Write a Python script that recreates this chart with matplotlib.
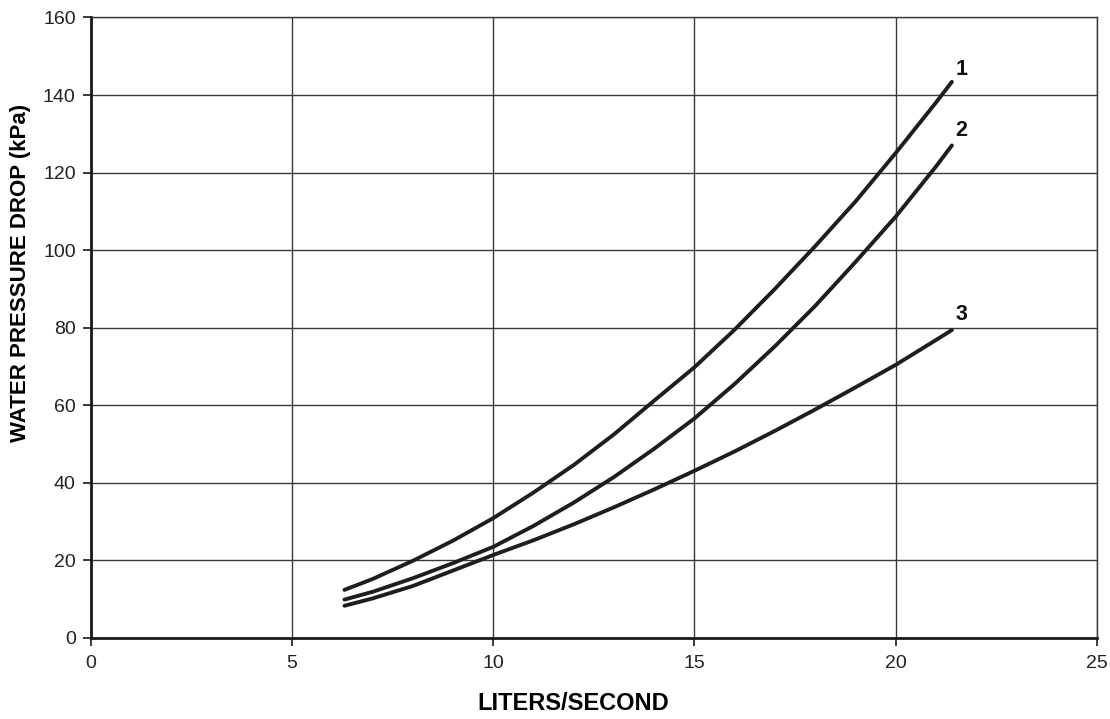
"""Water pressure drop vs flow rate for three coil curves."""

import matplotlib
matplotlib.use("Agg")
import matplotlib.pyplot as plt

plt.rcParams["font.family"] = ["Liberation Sans", "DejaVu Sans"]

# --- data -------------------------------------------------------------------

FLOW = [6.3, 7, 8, 9, 10, 11, 12, 13, 14, 15, 16, 17, 18, 19, 20, 21, 21.4]

CURVE_1 = [12.4, 15.2, 19.9, 25.1, 30.9, 37.5, 44.6, 52.5, 61.2, 69.8,
           79.5, 90.0, 101.0, 112.5, 125.0, 138.0, 143.4]
CURVE_2 = [9.9, 11.9, 15.4, 19.3, 23.5, 28.9, 34.9, 41.5, 48.8, 56.6,
           65.5, 75.2, 85.6, 96.9, 108.6, 121.5, 127.0]
CURVE_3 = [8.3, 10.2, 13.4, 17.4, 21.4, 25.2, 29.3, 33.7, 38.3, 43.1,
           48.1, 53.4, 58.9, 64.6, 70.4, 76.8, 79.4]

CURVE_NAMES = ["1", "2", "3"]
LABEL_X = 21.64
LABEL_Y = [146.5, 130.8, 83.3]

X_TICKS = [0, 5, 10, 15, 20, 25]
Y_TICKS = [0, 20, 40, 60, 80, 100, 120, 140, 160]


def main() -> None:
    fig = plt.figure(figsize=(11.10, 7.19), dpi=100)
    ax = fig.add_axes([0.082, 0.1127, 0.906, 0.863])

    for ys in (CURVE_1, CURVE_2, CURVE_3):
        ax.plot(FLOW, ys, color="#1e1e1e", linewidth=2.8,
                solid_capstyle="round", solid_joinstyle="round", zorder=3)

    for name, ly in zip(CURVE_NAMES, LABEL_Y):
        ax.text(LABEL_X, ly, name, ha="center", va="center",
                fontsize=15.5, fontweight="bold", color="#111111")

    ax.set_xlim(0, 25)
    ax.set_ylim(0, 160)
    ax.set_xticks(X_TICKS)
    ax.set_yticks(Y_TICKS)
    ax.grid(True, color="#3a3a3a", linewidth=1.0)
    ax.set_axisbelow(True)

    for side in ("top", "right"):
        ax.spines[side].set_color("#3a3a3a")
        ax.spines[side].set_linewidth(1.0)
    for side in ("left", "bottom"):
        ax.spines[side].set_color("#1a1a1a")
        ax.spines[side].set_linewidth(2.0)

    ax.tick_params(direction="out", length=6, width=1.2, color="#1a1a1a",
                   labelsize=14, labelcolor="#222222")
    ax.tick_params(axis="y", pad=5)
    ax.tick_params(axis="x", pad=6)

    ax.set_xlabel("LITERS/SECOND", fontsize=17, fontweight="bold")
    ax.xaxis.set_label_coords(0.48, -0.106)
    ax.xaxis.label.set_va("center")

    ax.set_ylabel("WATER PRESSURE DROP (kPa)", fontsize=16, fontweight="bold")
    ax.yaxis.set_label_coords(-0.07, 0.588)
    ax.yaxis.label.set_va("center")

    fig.savefig("out.png", dpi=100)
    plt.close(fig)


if __name__ == "__main__":
    main()
